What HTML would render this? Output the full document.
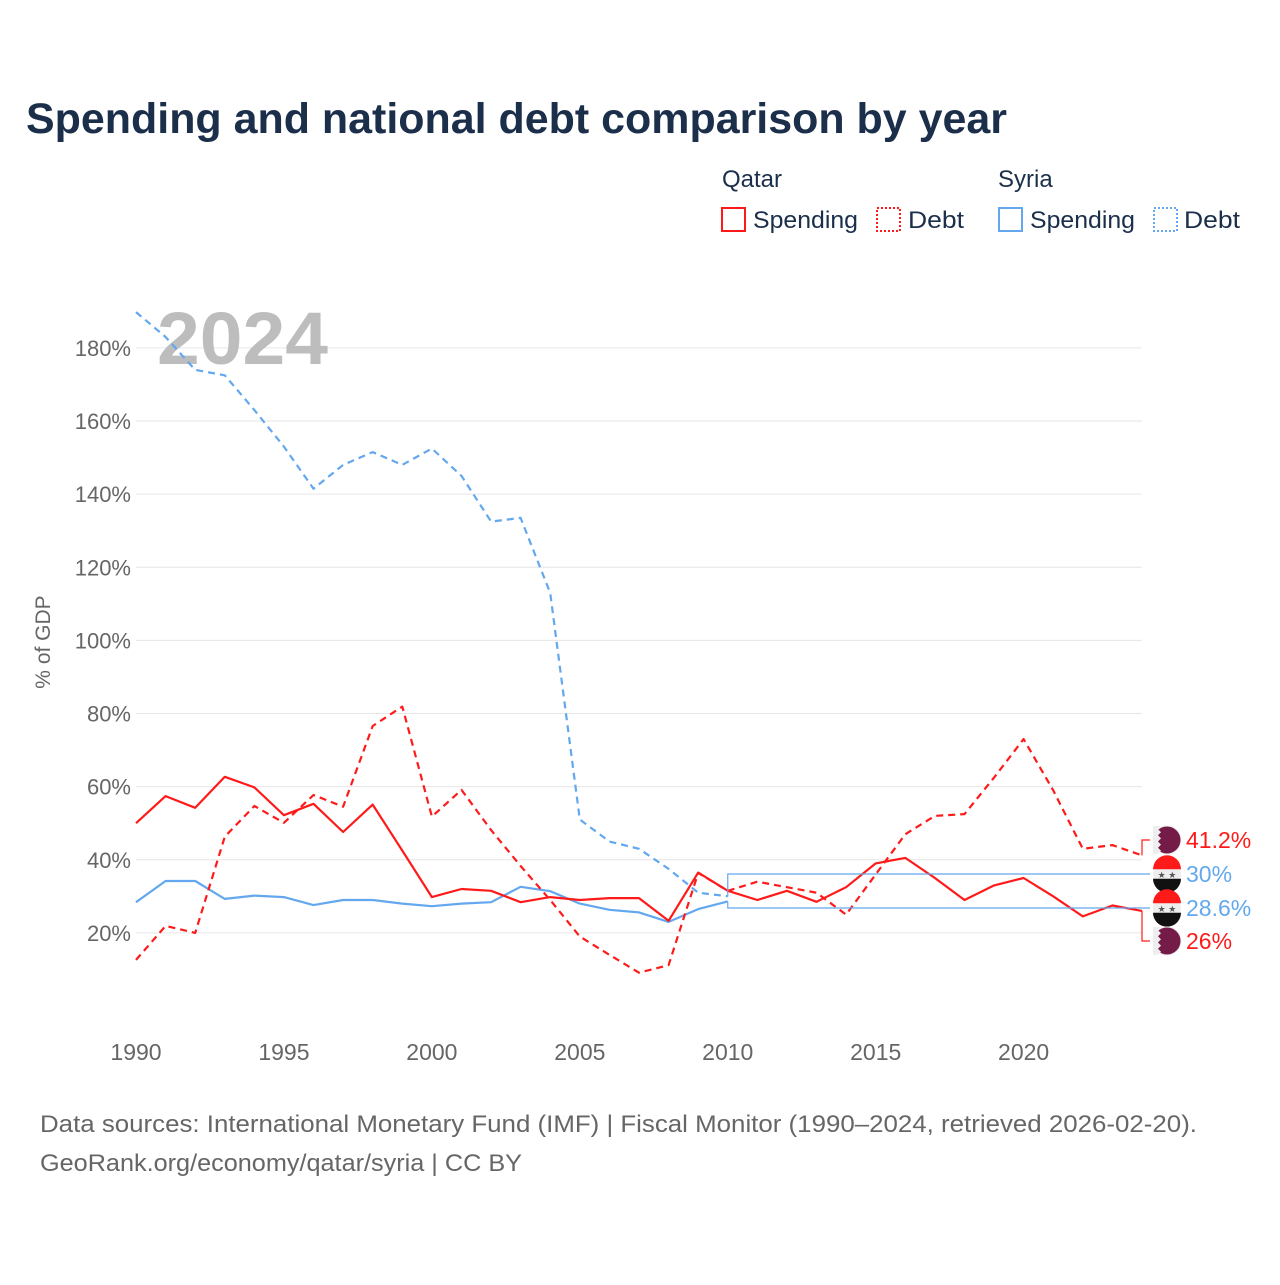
<!DOCTYPE html>
<html><head><meta charset="utf-8">
<style>
body{margin:0;background:#fff;width:1280px;height:1280px;overflow:hidden;font-family:"Liberation Sans",sans-serif;}
svg text{font-family:"Liberation Sans",sans-serif;}
</style></head>
<body>
<svg id="chart" width="1280" height="1280" viewBox="0 0 1280 1280">
<text x="26" y="133" font-size="43" font-weight="bold" fill="#1b2f4b" textLength="981" lengthAdjust="spacingAndGlyphs">Spending and national debt comparison by year</text>
<g>
<text x="722" y="187" font-size="24" fill="#1b2f4b">Qatar</text>
<text x="998" y="187" font-size="24" fill="#1b2f4b">Syria</text>
<g><rect x="722" y="208" width="23" height="23" fill="none" stroke="#ff1a1a" stroke-width="2"/><text x="753" y="228" font-size="24" fill="#1b2f4b" textLength="105" lengthAdjust="spacingAndGlyphs">Spending</text></g>
<g><rect x="877" y="208" width="23" height="23" fill="none" stroke="#ff1a1a" stroke-width="2" stroke-dasharray="2,2"/><text x="908" y="228" font-size="24" fill="#1b2f4b" textLength="56" lengthAdjust="spacingAndGlyphs">Debt</text></g>
<g><rect x="999" y="208" width="23" height="23" fill="none" stroke="#63a8ee" stroke-width="2"/><text x="1030" y="228" font-size="24" fill="#1b2f4b" textLength="105" lengthAdjust="spacingAndGlyphs">Spending</text></g>
<g><rect x="1154" y="208" width="23" height="23" fill="none" stroke="#63a8ee" stroke-width="2" stroke-dasharray="2,2"/><text x="1184" y="228" font-size="24" fill="#1b2f4b" textLength="56" lengthAdjust="spacingAndGlyphs">Debt</text></g>
</g>
<g id="grid"></g>
<text x="157" y="364" font-size="74" font-weight="bold" fill="#bdbdbd" textLength="171" lengthAdjust="spacingAndGlyphs">2024</text>
<text transform="translate(50,642) rotate(-90)" text-anchor="middle" font-size="21" fill="#666">% of GDP</text>
<g id="series"></g>
<text x="40" y="1132" font-size="24" fill="#666" textLength="1157" lengthAdjust="spacingAndGlyphs">Data sources: International Monetary Fund (IMF) | Fiscal Monitor (1990–2024, retrieved 2026-02-20).</text>
<text x="40" y="1171" font-size="24" fill="#666" textLength="482" lengthAdjust="spacingAndGlyphs">GeoRank.org/economy/qatar/syria | CC BY</text>
</svg>
<script>
const years=[];for(let y=1990;y<=2024;y++)years.push(y);
const yTicks=[20,40,60,80,100,120,140,160,180];
const xTicks=[1990,1995,2000,2005,2010,2015,2020];
const qatarSpending=[50,57.4,54.2,62.7,59.8,52.2,55.3,47.6,55.1,42.5,29.8,32,31.5,28.4,29.8,29,29.5,29.5,23.3,36.5,31.5,29,31.5,28.5,32.5,39,40.5,35,29,33,35,30,24.5,27.5,26];
const qatarDebt=[12.6,21.9,20,46.3,54.7,50.1,57.7,54.5,76.6,81.9,51.8,59.1,48.1,38.3,29,19,14,9.1,11.2,36.4,31.5,34,32.5,31,25,36,47,52,52.5,62.5,73,59,43,44,41.2];
const syriaSpending=[28.4,34.2,34.2,29.3,30.2,29.8,27.6,29,29,28,27.3,28,28.4,32.6,31.4,28,26.3,25.6,23,26.5,28.6];
const syriaDebt=[189.8,183,174,172.5,163,153,141.5,148,151.5,148,152.5,145,132.5,133.5,113,51,45,43,37.5,31,30];
const X=y=>136+(y-1990)*(1142-136)/34;
const Y=v=>1006-v*3.656;
const NS="http://www.w3.org/2000/svg";
const grid=document.getElementById('grid'),ser=document.getElementById('series');
function mk(t,a,p){const e=document.createElementNS(NS,t);for(const k in a)e.setAttribute(k,a[k]);p.appendChild(e);return e;}
yTicks.forEach(v=>{
 const l=mk('line',{x1:136,x2:1142,y1:Y(v),y2:Y(v),stroke:'#e6e6e6','stroke-width':1},grid);
 
 
 const t=mk('text',{x:131,y:Y(v)+8,'text-anchor':'end','font-size':22,fill:'#666'},grid);t.textContent=v+'%';
 
 
});
xTicks.forEach(y=>{
 const t=mk('text',{x:X(y),y:1060,'text-anchor':'middle','font-size':23,fill:'#666'},grid);t.textContent=y;
 
 
});
function line(vals,color,dash,name){
 const d=vals.map((v,i)=>(i?'L':'M')+X(years[i]).toFixed(1)+','+Y(v).toFixed(1)).join('');
 const p=mk('path',{d:d,fill:'none',stroke:color,'stroke-width':2.2,'stroke-dasharray':dash,'stroke-linejoin':'round'},ser);
 
 
}
line(syriaDebt,'#63a8ee','7,5','syria-debt-line');
line(syriaSpending,'#63a8ee','none','syria-spending-line');
line(qatarDebt,'#ff1a1a','7,5','qatar-debt-line');
line(qatarSpending,'#ff1a1a','none','qatar-spending-line');
const lx=1142;
const sx=X(years[syriaDebt.length-1]);
const labels=[
 {v:qatarDebt[34],x:lx,ly:840,c:'#ff1a1a',f:'qatar',name:'qatar-debt-end-label'},
 {v:syriaDebt[20],x:sx,ly:874,c:'#63a8ee',f:'syria',name:'syria-debt-end-label'},
 {v:syriaSpending[20],x:sx,ly:908,c:'#63a8ee',f:'syria',name:'syria-spending-end-label'},
 {v:qatarSpending[34],x:lx,ly:941,c:'#ff1a1a',f:'qatar',name:'qatar-spending-end-label'}];
labels.forEach(L=>{
 const g=mk('g',{},ser);
 
 
 const y0=Y(L.v);
 mk('path',{d:`M${L.x},${y0}L${L.x},${L.ly}L1150,${L.ly}`,fill:'none',stroke:L.c,'stroke-width':1.2},g);
 const cx=1167,cy=L.ly;
 if(L.f==='qatar'){
  mk('circle',{cx,cy,r:14,fill:'#741b47'},g);
  mk('path',{d:`M${cx-14},${cy-14}h8l-3,3.1l3,3.1l-3,3.1l3,3.1l-3,3.1l3,3.1l-3,3.1l3,3.1l-3,3.1h-5z`,fill:'#eee'},g);
  mk('circle',{cx,cy,r:14,fill:'none',stroke:'#eee','stroke-width':1},g);
 } else {
  mk('circle',{cx,cy,r:14,fill:'#eee'},g);
  mk('path',{d:`M${cx-14},${cy-4.7}A14,14 0 0 1 ${cx+14},${cy-4.7}Z`,fill:'#ff1a1a'},g);
  mk('path',{d:`M${cx-14},${cy+4.7}A14,14 0 0 0 ${cx+14},${cy+4.7}Z`,fill:'#111'},g);
  const s=mk('text',{x:cx,y:cy+4,'text-anchor':'middle','font-size':9,fill:'#555'},g);s.textContent='★ ★';
 }
 const t=mk('text',{x:1186,y:L.ly+8,'font-size':23,fill:L.c},g);
 t.textContent=(+L.v.toFixed(1))+'%';
});
</script>
</body></html>
